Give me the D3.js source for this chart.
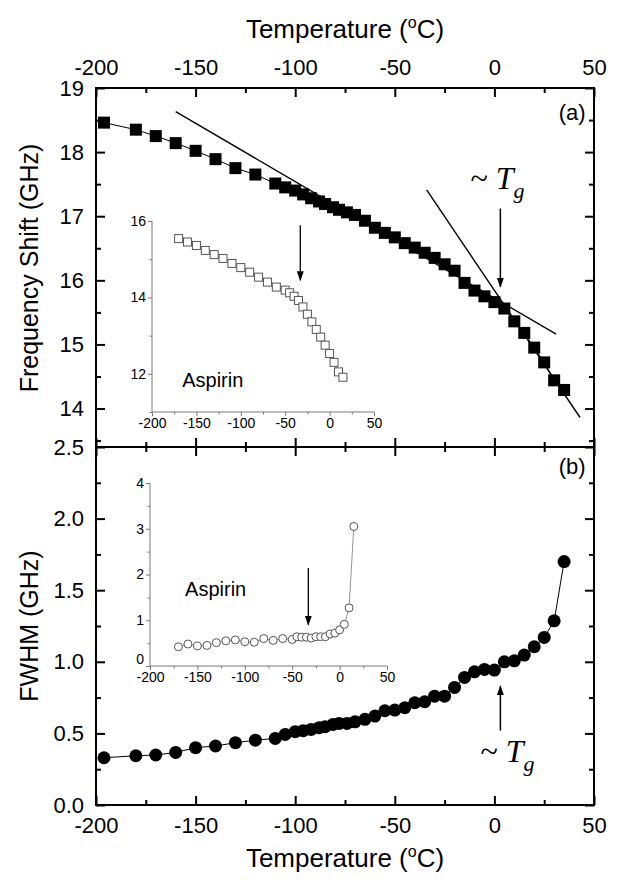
<!DOCTYPE html>
<html>
<head>
<meta charset="utf-8">
<script src="https://cdn.jsdelivr.net/npm/d3@7"></script>
<style>
body { margin: 0; background: #fff; }
</style>
</head>
<body>
<script>
// main sample: temperature (C), Brillouin frequency shift (GHz), FWHM (GHz)
const temps = [-196,-180,-170,-160,-150,-140,-130,-120,-110,
  -105,-100,-96,-92,-88,-85,-81,-78,-74,
  -70,-65,-60,-55,-50,-45,-40,-35,-30,-25,-20,-15,-10,-5,0,5,10,15,20,25,30,35];
const freqShift = [18.46,18.35,18.25,18.14,18.02,17.89,17.75,17.65,17.51,
  17.45,17.40,17.34,17.28,17.23,17.19,17.14,17.10,17.06,
  17.02,16.93,16.82,16.74,16.67,16.58,16.51,16.43,16.35,16.25,16.15,15.96,15.84,15.75,15.66,15.56,15.36,15.18,14.95,14.72,14.44,14.29];
const fwhm = [0.33,0.344,0.349,0.367,0.40,0.412,0.435,0.453,0.465,
  0.493,0.512,0.519,0.528,0.54,0.547,0.563,0.57,0.57,
  0.581,0.598,0.621,0.658,0.663,0.679,0.714,0.721,0.76,0.76,0.821,0.891,0.93,0.947,0.942,1.0,1.007,1.047,1.105,1.17,1.286,1.70];

// aspirin insets
const aspTemps = [-170,-160,-150,-140,-130,-120,-110,-100,-90,-80,-70,-60,-50,
  -45,-40,-35,-30,-25,-20,-15,-10,-5,0,5,10,15];
const aspFreq = [15.54,15.45,15.36,15.23,15.12,15.02,14.89,14.78,14.66,14.53,14.40,14.27,14.19,
  14.12,14.03,13.92,13.75,13.56,13.36,13.16,12.96,12.75,12.53,12.30,12.05,11.91];
const aspFwhm = [0.42,0.48,0.44,0.45,0.51,0.55,0.57,0.53,0.52,0.60,0.56,0.60,0.58,
  0.64,0.63,0.63,0.61,0.64,0.64,0.64,0.70,0.72,0.79,0.91,1.27,3.05];

// tangent lines in (a)
const tanLowT = [-160, 31], tanLowV = [18.63, 15.16];
const tanHighT = [-34, 43], tanHighV = [17.41, 13.86];

// Tg / aspirin arrows: [T, from, to]
const arrowA = [3, 17.12, 15.9];
const arrowB = [3, 0.52, 0.83];
const arrowAspA = [-33, 15.89, 14.45];
const arrowAspB = [-33, 2.14, 0.9];

// ticks
const xMajor = [-200,-150,-100,-50,0,50];
const xMinor = [-175,-125,-75,-25,25];
const yaMajor = [14,15,16,17,18,19];
const yaMinor = [13.5,14.5,15.5,16.5,17.5,18.5];
const ybMajor = [0,0.5,1.0,1.5,2.0,2.5];
const ybMinor = [0.25,0.75,1.25,1.75,2.25];
const iaMajor = [12,14,16], iaMinor = [11,13,15];
const ibMajor = [0,1,2,3,4], ibMinor = [0.5,1.5,2.5,3.5];

const w = 618, h = 885;
const sans = "'Liberation Sans', Arial, sans-serif";
const serif = "'Liberation Serif', 'Times New Roman', serif";

const svg = d3.select("body").append("svg")
  .attr("width", w).attr("height", h)
  .style("font-family", sans);

const defs = svg.append("defs");
defs.append("marker").attr("id", "head")
  .attr("markerUnits", "userSpaceOnUse")
  .attr("markerWidth", 10).attr("markerHeight", 8)
  .attr("refX", 9).attr("refY", 3.5).attr("orient", "auto")
  .append("path").attr("d", "M0,0 L10,3.5 L0,7 z").attr("fill", "#000");

const x = d3.scaleLinear().domain([-200, 50]).range([96, 594]);
const ya = d3.scaleLinear().domain([13.4, 19]).range([447, 88]);
const yb = d3.scaleLinear().domain([0, 2.5]).range([805, 447]);

const xia = d3.scaleLinear().domain([-200, 50]).range([152, 374]);
const yia = d3.scaleLinear().domain([11, 16]).range([412, 221]);
const xib = d3.scaleLinear().domain([-200, 50]).range([150, 387]);
const yib = d3.scaleLinear().domain([0, 4]).range([666, 483]);

// axis helper: major + minor ticks, domain removed
function axis(fn, scale, major, minor, fmt, tr, big, small, pad, fs, col, sw) {
  const g = svg.append("g").attr("transform", tr);
  g.append("g").call(fn(scale).tickValues(minor).tickSizeInner(small).tickSizeOuter(0).tickFormat(() => ""));
  g.append("g").call(fn(scale).tickValues(major).tickSizeInner(big).tickSizeOuter(0).tickPadding(pad).tickFormat(fmt));
  g.selectAll(".domain").remove();
  g.selectAll("line").attr("stroke", col).attr("stroke-width", sw);
  g.selectAll("g > g").attr("font-family", sans).attr("font-size", fs);
  g.selectAll("text").attr("fill", "#000");
  return g;
}
const none = () => "";
const str = d => String(d);

// main axes
axis(d3.axisTop, x, xMajor, xMinor, str, "translate(0,88)", -9, -5, 13, 22, "#000", 2);
axis(d3.axisBottom, x, xMajor, xMinor, none, "translate(0,447)", -9, -5, 0, 22, "#000", 2);
axis(d3.axisTop, x, xMajor, xMinor, none, "translate(0,447)", -9, -5, 0, 22, "#000", 2);
axis(d3.axisBottom, x, xMajor, xMinor, str, "translate(0,805)", -9, -5, 12, 22, "#000", 2);
axis(d3.axisLeft, ya, yaMajor, yaMinor, str, "translate(96,0)", -9, -5, 12, 22, "#000", 2);
axis(d3.axisRight, ya, yaMajor, yaMinor, none, "translate(594,0)", -9, -5, 0, 22, "#000", 2);
axis(d3.axisLeft, yb, ybMajor, ybMinor, d => d.toFixed(1), "translate(96,0)", -9, -5, 12, 22, "#000", 2);
axis(d3.axisRight, yb, ybMajor, ybMinor, none, "translate(594,0)", -9, -5, 0, 22, "#000", 2);

// frames
svg.append("rect").attr("x", 96).attr("y", 88).attr("width", 498).attr("height", 359)
  .attr("fill", "none").attr("stroke", "#000").attr("stroke-width", 2);
svg.append("rect").attr("x", 96).attr("y", 447).attr("width", 498).attr("height", 358)
  .attr("fill", "none").attr("stroke", "#000").attr("stroke-width", 2);

// axis titles
function tempTitle(y) {
  const t = svg.append("text").attr("x", 345).attr("y", y).attr("text-anchor", "middle")
    .attr("font-size", 26);
  t.append("tspan").text("Temperature (");
  t.append("tspan").attr("font-size", 16).attr("dy", -10).text("o");
  t.append("tspan").attr("dy", 10).text("C)");
}
tempTitle(38);
tempTitle(867);

svg.append("text").attr("transform", "translate(38,268) rotate(-90)")
  .attr("text-anchor", "middle").attr("font-size", 25).text("Frequency Shift (GHz)");
svg.append("text").attr("transform", "translate(38,626) rotate(-90)")
  .attr("text-anchor", "middle").attr("font-size", 25).text("FWHM (GHz)");

svg.append("text").attr("x", x(39)).attr("y", ya(18.5)).attr("text-anchor", "middle")
  .attr("font-size", 22).text("(a)");
svg.append("text").attr("x", x(39)).attr("y", yb(2.31)).attr("text-anchor", "middle")
  .attr("font-size", 22).text("(b)");

// tangents
const line2 = (ts, vs, ys) => d3.line()(ts.map((t, i) => [x(t), ys(vs[i])]));
svg.append("path").attr("d", line2(tanLowT, tanLowV, ya)).attr("stroke", "#000").attr("stroke-width", 1.4).attr("fill", "none");
svg.append("path").attr("d", line2(tanHighT, tanHighV, ya)).attr("stroke", "#000").attr("stroke-width", 1.4).attr("fill", "none");

// main data (a)
const lineA = d3.line().x((d, i) => x(temps[i])).y(d => ya(d));
svg.append("path").attr("d", lineA(freqShift)).attr("fill", "none").attr("stroke", "#000").attr("stroke-width", 1);
svg.append("g").selectAll("rect").data(freqShift).join("rect")
  .attr("x", (d, i) => x(temps[i]) - 6).attr("y", d => ya(d) - 6)
  .attr("width", 12).attr("height", 12).attr("fill", "#000");

// main data (b)
const lineB = d3.line().x((d, i) => x(temps[i])).y(d => yb(d));
svg.append("path").attr("d", lineB(fwhm)).attr("fill", "none").attr("stroke", "#000").attr("stroke-width", 1);
svg.append("g").selectAll("circle").data(fwhm).join("circle")
  .attr("cx", (d, i) => x(temps[i])).attr("cy", d => yb(d)).attr("r", 6.5).attr("fill", "#000");

// arrows
function arrow(a, xs, ys, sw) {
  svg.append("line").attr("x1", xs(a[0])).attr("x2", xs(a[0]))
    .attr("y1", ys(a[1])).attr("y2", ys(a[2]))
    .attr("stroke", "#000").attr("stroke-width", sw).attr("marker-end", "url(#head)");
}
arrow(arrowA, x, ya, 1.5);
arrow(arrowB, x, yb, 1.5);

// Tg labels
function tgLabel(t, y) {
  const el = svg.append("text").attr("x", x(t)).attr("y", y).attr("font-family", serif).attr("font-size", 32);
  el.append("tspan").text("~ ");
  el.append("tspan").attr("font-style", "italic").text("T");
  el.append("tspan").attr("font-style", "italic").attr("font-size", 22).attr("dy", 9).text("g");
}
tgLabel(-12, ya(17.42));
tgLabel(-7, yb(0.3));

// inset (a)
const grey = "#7a7a7a";
axis(d3.axisLeft, yia, iaMajor, iaMinor, str, "translate(152,0)", 4, 2.5, 2, 14, grey, 1);
axis(d3.axisBottom, xia, xMajor, xMinor, str, "translate(0,412)", 4, 2.5, 2, 14, grey, 1);
svg.append("line").attr("x1", 152).attr("x2", 152).attr("y1", 221).attr("y2", 412).attr("stroke", grey);
svg.append("line").attr("x1", 152).attr("x2", 374).attr("y1", 412).attr("y2", 412).attr("stroke", grey);
svg.append("path").attr("d", d3.line().x((d, i) => xia(aspTemps[i])).y(d => yia(d))(aspFreq))
  .attr("fill", "none").attr("stroke", grey).attr("stroke-width", 0.8);
svg.append("g").selectAll("rect").data(aspFreq).join("rect")
  .attr("x", (d, i) => xia(aspTemps[i]) - 4).attr("y", d => yia(d) - 4)
  .attr("width", 8).attr("height", 8).attr("fill", "#fff").attr("stroke", "#555").attr("stroke-width", 1);
arrow(arrowAspA, xia, yia, 1.3);
svg.append("text").attr("x", xia(-166)).attr("y", yia(11.65)).attr("font-size", 20).text("Aspirin");

// inset (b)
axis(d3.axisLeft, yib, ibMajor, ibMinor, str, "translate(150,0)", 4, 2.5, 2, 14, grey, 1)
  .selectAll("text").filter(d => d === 0).attr("dy", "-0.15em");
axis(d3.axisBottom, xib, xMajor, xMinor, str, "translate(0,666)", 4, 2.5, 2, 14, grey, 1);
svg.append("line").attr("x1", 150).attr("x2", 150).attr("y1", 483).attr("y2", 666).attr("stroke", grey);
svg.append("line").attr("x1", 150).attr("x2", 387).attr("y1", 666).attr("y2", 666).attr("stroke", grey);
svg.append("path").attr("d", d3.line().x((d, i) => xib(aspTemps[i])).y(d => yib(d))(aspFwhm))
  .attr("fill", "none").attr("stroke", grey).attr("stroke-width", 0.8);
svg.append("g").selectAll("circle").data(aspFwhm).join("circle")
  .attr("cx", (d, i) => xib(aspTemps[i])).attr("cy", d => yib(d)).attr("r", 4)
  .attr("fill", "#fff").attr("stroke", "#555").attr("stroke-width", 1);
arrow(arrowAspB, xib, yib, 1.3);
svg.append("text").attr("x", xib(-163)).attr("y", yib(1.53)).attr("font-size", 20).text("Aspirin");
</script>
</body>
</html>
